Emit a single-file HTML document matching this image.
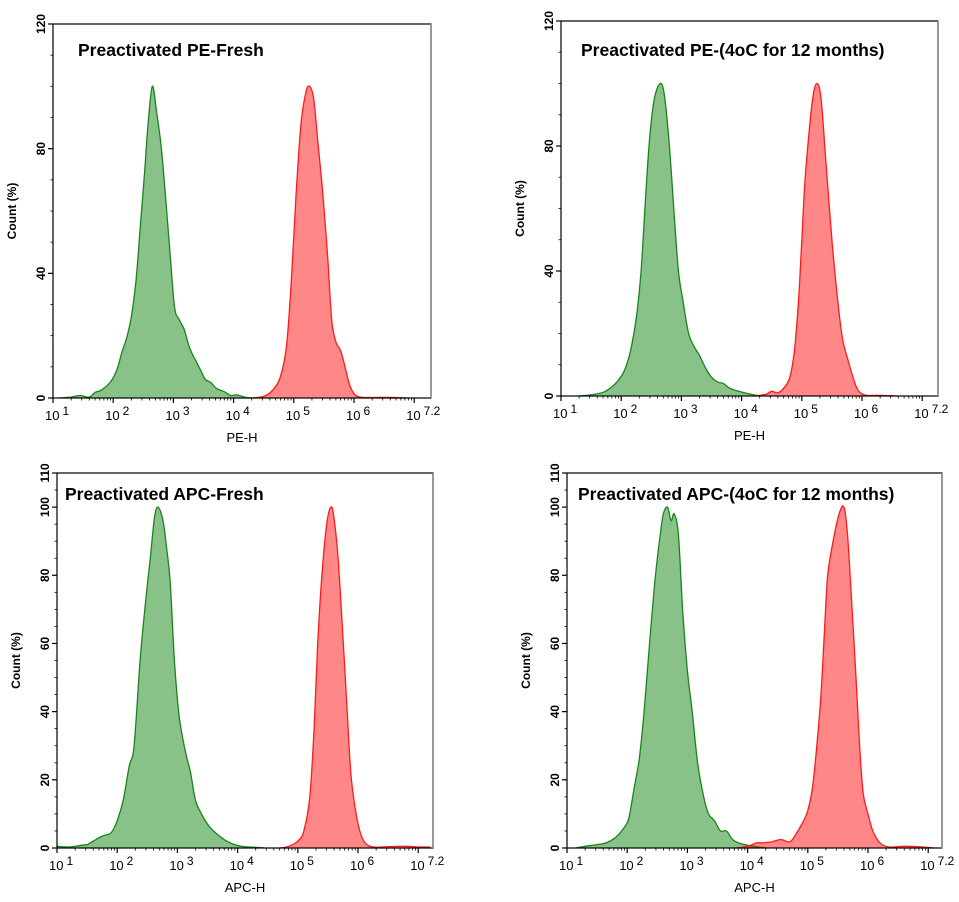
<!DOCTYPE html>
<html><head><meta charset="utf-8">
<style>
html,body{margin:0;padding:0;background:#fff;}
svg{display:block;}
text{font-family:"Liberation Sans",Arial,sans-serif;}
</style></head>
<body>
<svg id="s" width="959" height="902" viewBox="0 0 959 902" xmlns="http://www.w3.org/2000/svg"></svg>
<script>
const S=document.getElementById('s');
let out='';
function smooth(pts){
  let d='M'+pts[0][0].toFixed(1)+','+pts[0][1].toFixed(1);
  for(let i=0;i<pts.length-1;i++){
    const p0=pts[Math.max(0,i-1)],p1=pts[i],p2=pts[i+1],p3=pts[Math.min(pts.length-1,i+2)];
    const c1x=p1[0]+(p2[0]-p0[0])/6,c1y=p1[1]+(p2[1]-p0[1])/6;
    const c2x=p2[0]-(p3[0]-p1[0])/6,c2y=p2[1]-(p3[1]-p1[1])/6;
    d+=' C'+c1x.toFixed(1)+','+c1y.toFixed(1)+' '+c2x.toFixed(1)+','+c2y.toFixed(1)+' '+p2[0].toFixed(1)+','+p2[1].toFixed(1);
  }
  return d;
}
function panel(o){
  const {L,R,T,B,ymax,yl,title,tx,ty,xlab,green,red}=o;
  const dec=60.2;
  const X=d=>L+d*dec, Y=v=>B-(v/ymax)*(B-T);
  const draw=(data,fill,stroke,op)=>{
    const pts=data.map(p=>[X(p[0]),Math.min(B,Y(p[1]))]);
    const d=smooth(pts);
    out+=`<path d="${d} L${pts[pts.length-1][0].toFixed(1)},${B} L${pts[0][0].toFixed(1)},${B} Z" fill="${fill}" fill-opacity="${op}" stroke="none"/>`;
    out+=`<path d="${d}" fill="none" stroke="${stroke}" stroke-width="1.3"/>`;
  };
  draw(green,'#3a9a3a','#1a841a',0.6);
  draw(red,'#ff0000','#ff1a1a',0.47);
  out+=`<rect x="${L}" y="${T}" width="${R-L}" height="${B-T}" fill="none" stroke="#000" stroke-width="1.2"/>`;
  out+=`<line x1="${R}" y1="${T}" x2="${R}" y2="${B}" stroke="#888" stroke-width="1.5"/>`;
  for(let v=0;v<=ymax;v+=(ymax==120?10:5)){
    const y=Y(v),maj=yl.includes(v);
    out+=`<line x1="${L-(maj?5:2.5)}" y1="${y}" x2="${L}" y2="${y}" stroke="#000" stroke-width="${maj?1.2:0.8}"/>`;
    if(maj) out+=`<text transform="translate(${L-8},${y}) rotate(-90)" text-anchor="middle" font-size="12" font-weight="bold">${v}</text>`;
  }
  out+=`<text transform="translate(${L-37},${(T+B)/2}) rotate(-90)" text-anchor="middle" font-size="12" font-weight="bold">Count  (%)</text>`;
  for(let k=0;k<=6;k++){
    for(let m=1;m<10;m++){
      const d=k+Math.log10(m); const x=X(d); if(x>R) continue;
      out+=`<line x1="${x}" y1="${B}" x2="${x}" y2="${B+(m==1?5:2.5)}" stroke="#000" stroke-width="${m==1?1.2:0.8}"/>`;
    }
    const x=X(k);
    out+=`<text x="${x-8}" y="${B+22}" font-size="13">10<tspan dx="3" dy="-5" font-size="12">${k<6?k+1:'7.2'}</tspan></text>`;
  }
  out+=`<text x="${(L+R)/2}" y="${B+44}" text-anchor="middle" font-size="13">${xlab}</text>`;
  out+=`<text x="${tx}" y="${ty}" font-size="17.5" font-weight="bold">${title}</text>`;
}
const G1=[[0.1,0],[0.3,0.3],[0.45,0.8],[0.6,0.3],[0.7,1.8],[0.8,2.5],[0.95,5],[1.06,9],[1.15,15],[1.22,19],[1.3,26],[1.38,38],[1.45,55],[1.52,72],[1.58,88],[1.65,100],[1.72,92],[1.8,80],[1.88,62],[1.95,45],[2.02,29],[2.1,25],[2.18,22],[2.27,16],[2.37,12],[2.45,9],[2.53,6],[2.62,5],[2.72,3],[2.85,2],[2.95,0.8],[3.05,1],[3.2,0.2],[3.3,0]];
const R1=[[3.3,0],[3.5,0.5],[3.65,2.5],[3.78,7],[3.88,17],[3.96,38],[4.04,66],[4.12,88],[4.2,98],[4.26,100],[4.33,96],[4.4,82],[4.48,66],[4.56,46],[4.63,25],[4.7,18],[4.78,15],[4.85,10],[4.93,4],[5.02,1],[5.15,0.2],[5.4,0.2],[5.6,0.2],[5.9,0]];
const G2=[[0.3,0],[0.5,0.4],[0.7,1.2],[0.85,3],[0.95,5],[1.05,8],[1.15,14],[1.25,25],[1.33,40],[1.4,62],[1.47,82],[1.55,95],[1.65,100],[1.72,96],[1.8,80],[1.88,58],[1.95,40],[2.03,30],[2.12,20],[2.22,15.5],[2.3,13],[2.4,9],[2.5,6],[2.6,4.5],[2.7,4],[2.8,2.5],[2.95,1.5],[3.1,0.8],[3.3,0]];
const R2=[[3.2,0],[3.4,0.5],[3.5,1.5],[3.6,1],[3.7,2.5],[3.8,6],[3.88,15],[3.96,35],[4.04,65],[4.1,80],[4.18,95],[4.25,100],[4.32,95],[4.4,75],[4.5,50],[4.6,30],[4.68,18],[4.76,12],[4.85,6],[4.93,2],[5.05,0.3],[5.3,0.2],[5.6,0]];
const G3=[[0,0.5],[0.2,0.3],[0.4,0.8],[0.5,1],[0.6,2],[0.75,3.5],[0.9,4.5],[1.0,8],[1.1,14],[1.2,24],[1.28,30],[1.38,55],[1.47,72],[1.55,85],[1.62,97],[1.68,100],[1.76,96],[1.82,88],[1.88,78],[1.95,55],[2.02,40],[2.08,33],[2.15,27],[2.22,22],[2.3,14],[2.4,10],[2.5,7],[2.6,5],[2.7,3.5],[2.82,2],[2.95,1],[3.1,0.4],[3.3,0.2],[3.45,0]];
const R3=[[3.7,0],[3.85,0.5],[4.0,2],[4.1,5],[4.2,15],[4.27,35],[4.33,60],[4.4,80],[4.48,95],[4.55,100],[4.6,97],[4.67,85],[4.75,62],[4.82,40],[4.88,22],[4.95,12],[5.03,5],[5.12,1.5],[5.25,0.3],[5.5,0.4],[5.8,0.5],[6.0,0.3],[6.2,0.3]];
const G4=[[0.15,0],[0.3,0.5],[0.5,1],[0.65,1.5],[0.8,3],[0.95,6],[1.03,9],[1.12,18],[1.2,26],[1.28,40],[1.38,62],[1.47,80],[1.55,92],[1.6,98],[1.67,100],[1.73,96],[1.78,98],[1.85,92],[1.92,70],[2.0,52],[2.08,40],[2.17,25],[2.27,15],[2.35,10],[2.45,8],[2.55,5],[2.65,5],[2.75,2.5],[2.85,1.5],[2.95,1],[3.1,0.5],[3.3,0]];
const R4=[[2.8,0],[3.0,0.5],[3.15,1.5],[3.25,1.5],[3.4,1.8],[3.55,2.5],[3.7,1.8],[3.8,4],[3.9,7],[4.0,11],[4.08,18],[4.15,30],[4.22,45],[4.28,65],[4.33,80],[4.42,90],[4.52,98],[4.6,100],[4.66,92],[4.72,75],[4.8,50],[4.86,30],[4.92,16],[5.0,10],[5.08,5],[5.2,1.5],[5.35,0.3],[5.6,0.5],[5.9,0.3],[6.1,0]];
panel({L:53,R:431,T:24,B:398,ymax:120,yl:[0,40,80,120],title:'Preactivated PE-Fresh',tx:78,ty:56,xlab:'PE-H',green:G1,red:R1});
panel({L:561,R:938,T:21,B:396,ymax:120,yl:[0,40,80,120],title:'Preactivated PE-(4oC for 12 months)',tx:581,ty:56,xlab:'PE-H',green:G2,red:R2});
panel({L:57,R:433,T:473,B:848,ymax:110,yl:[0,20,40,60,80,100,110],title:'Preactivated APC-Fresh',tx:65,ty:500,xlab:'APC-H',green:G3,red:R3});
panel({L:567,R:942,T:473,B:848,ymax:110,yl:[0,20,40,60,80,100,110],title:'Preactivated APC-(4oC for 12 months)',tx:578,ty:500,xlab:'APC-H',green:G4,red:R4});
S.innerHTML=out;
</script>
</body></html>
